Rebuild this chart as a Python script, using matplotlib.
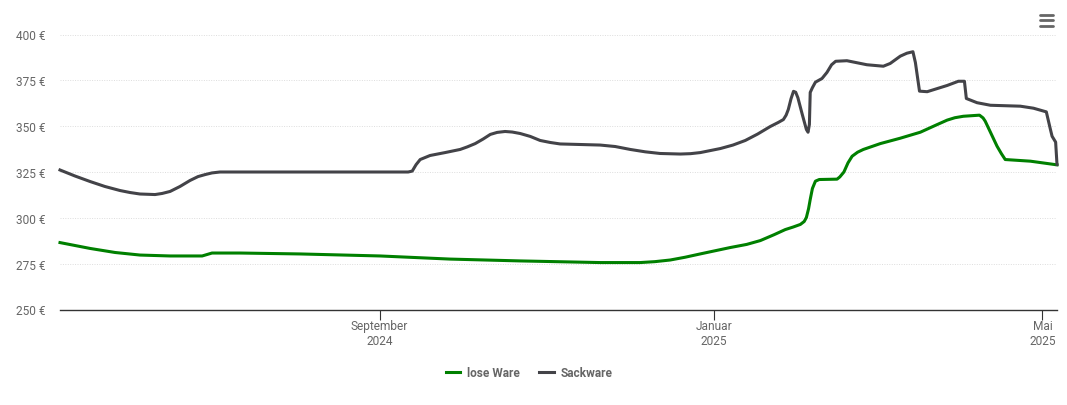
import matplotlib
matplotlib.use("Agg")
import matplotlib.pyplot as plt
import matplotlib.dates as mdates
from matplotlib.lines import Line2D
import pandas as pd

plt.rcParams['font.family'] = ['Roboto', 'DejaVu Sans']

REF = pd.Timestamp('2024-09-01')
tick_dates = ['2024-09-01', '2025-01-01', '2025-05-01']
tick_labels = ['September\n2024', 'Januar\n2025', 'Mai\n2025']
y_ticks = [250, 275, 300, 325, 350, 375, 400]

sack_days = [-116.7, -111.2, -105.7, -100.3, -94.8, -91.1, -87.5, -82, -79.4, -76.5, -72.9, -69.2, -66.3,
             -63.7, -61.2, -58.3, 10.4, 11.9, 13.3, 14.8, 18.4, 23.9, 29.4, 32, 34.9, 37.8, 40.4, 42.9,
             45.8, 48.4, 51.3, 55, 58.6, 62.3, 65.9, 73.2, 80.5, 86, 91.5, 97, 102.4, 109.8, 113.5, 117.1,
             124.4, 129, 133.5, 138, 142.6, 145.5, 147.4, 148.4, 149.2, 150.2, 151.1, 151.9, 152.7, 154.3,
             155.8, 156.4, 156.9, 157.2, 158, 159.1, 161.5, 163.3, 165, 166.5, 170.6, 177.9, 183.9, 186.4,
             190.1, 192.5, 194.7, 195.6, 197.1, 199.9, 207.2, 211.3, 213.5, 214.2, 218.1, 223, 233.9, 238.7,
             243.4, 244.9, 245.5, 246.8, 247.3]
sack_vals = [326.1, 322.8, 319.8, 317.1, 314.9, 313.8, 313, 312.7, 313.3, 314.4, 317.1, 320.4, 322.5,
             323.6, 324.5, 325, 325, 325.5, 329, 331.8, 334, 335.6, 337.3, 338.7, 340.5, 343, 345.5, 346.6,
             347.1, 346.8, 346, 344.4, 342.2, 341.1, 340.3, 340, 339.7, 338.9, 337.3, 336, 335.1, 334.8, 335, 335.6,
             337.8, 339.7, 342.2, 345.7, 349.8, 352, 353.6, 356, 359.1, 365, 369, 368.5, 365.5, 356.4,
             348.2, 346.7, 350.9, 368.4, 371, 374, 376, 379.3, 383.5, 385.4, 385.7, 383.5, 382.7, 384.2,
             388.2, 389.8, 390.6, 384.7, 369.1, 368.8, 372.2, 374.5, 374.5, 365.1, 362.8, 361.4, 360.9, 359.8,
             357.8, 348.2, 344.5, 341.3, 329.1]

lose_days = [-116.7, -105.7, -96.6, -87.5, -76.5, -64.8, -61.2, -50.9, -29, 0.2, 25.7, 51.3, 80.5, 95.1,
             100.5, 106.1, 111.5, 117, 128, 134, 139, 144, 148.1, 151, 153.6, 155, 155.8, 156.6, 157.2, 158,
             159.1, 160.5, 167, 168, 169.5, 171, 172.5, 174.5, 176.6, 182.8, 190, 197.4, 203, 207.2, 210,
             213.1, 219, 220.3, 221.1, 225.4, 227, 228.4, 237.6, 247.3]
lose_vals = [286.5, 283.3, 281.1, 279.7, 279.2, 279.2, 280.8, 280.8, 280.3, 279.2, 277.5, 276.5, 275.6, 275.6,
             276.1, 277, 278.5, 280.3, 283.8, 285.5, 287.6, 290.8, 293.6, 295, 296.4, 298, 300.2, 305, 310, 316,
             320, 320.9, 321.1, 322.3, 325, 330, 333.6, 335.8, 337.3, 340.5, 343.4, 346.7, 350.5, 353.3, 354.6,
             355.4, 356, 354.5, 352.7, 339.1, 335, 331.8, 330.9, 328.9]

def to_dates(days):
    return REF + pd.to_timedelta(days, unit='D')

W, H = 1067, 406
fig = plt.figure(figsize=(W / 100, H / 100), dpi=100, facecolor='white')
ax = fig.add_axes([60 / W, 1 - 310.5 / H, 997 / W, 275 / H])

green, dark, txt = '#008000', '#434348', '#666666'
ax.plot(to_dates(lose_days), lose_vals, color=green, lw=2.2, solid_joinstyle='round', label='lose Ware', clip_on=False, zorder=3)
ax.plot(to_dates(sack_days), sack_vals, color=dark, lw=2.2, solid_joinstyle='round', label='Sackware', clip_on=False, zorder=3)

ax.set_xlim(to_dates([-116.7])[0], to_dates([247.3])[0])
ax.set_ylim(250, 400)
ax.set_yticks(y_ticks)
ax.set_yticklabels([f'{v} €' for v in y_ticks], color=txt, fontsize=8.6)
ax.set_xticks([mdates.date2num(pd.Timestamp(d)) for d in tick_dates])
ax.set_xticklabels(tick_labels, color=txt, fontsize=8.6, linespacing=1.2)
ax.tick_params(axis='y', length=0, pad=10.5)
ax.tick_params(axis='x', length=7, width=0.8, color='#333333', pad=-0.3)
ax.grid(axis='y', color='#dddddd', lw=0.7, ls=(0, (1, 1.5)))
ax.set_axisbelow(True)
for s in ('top', 'right', 'left'):
    ax.spines[s].set_visible(False)
ax.spines['bottom'].set_color('#333333')
ax.spines['bottom'].set_linewidth(1.0)

leg = ax.legend(loc='center', bbox_to_anchor=(529 / W, 1 - 374 / H), bbox_transform=fig.transFigure,
                ncol=2, frameon=False, fontsize=8.6, handlelength=1.2, handletextpad=0.55,
                columnspacing=1.65, borderpad=0)
for t in leg.get_texts():
    t.set_color(txt)
    t.set_fontweight('bold')

# menu icon
for y in (15.7, 21.3, 26.7):
    fig.add_artist(Line2D([1039.5 / W, 1052.5 / W], [1 - y / H, 1 - y / H], color=txt, lw=2.0,
                          solid_capstyle='round', transform=fig.transFigure))

fig.savefig('out.png', dpi=100)
